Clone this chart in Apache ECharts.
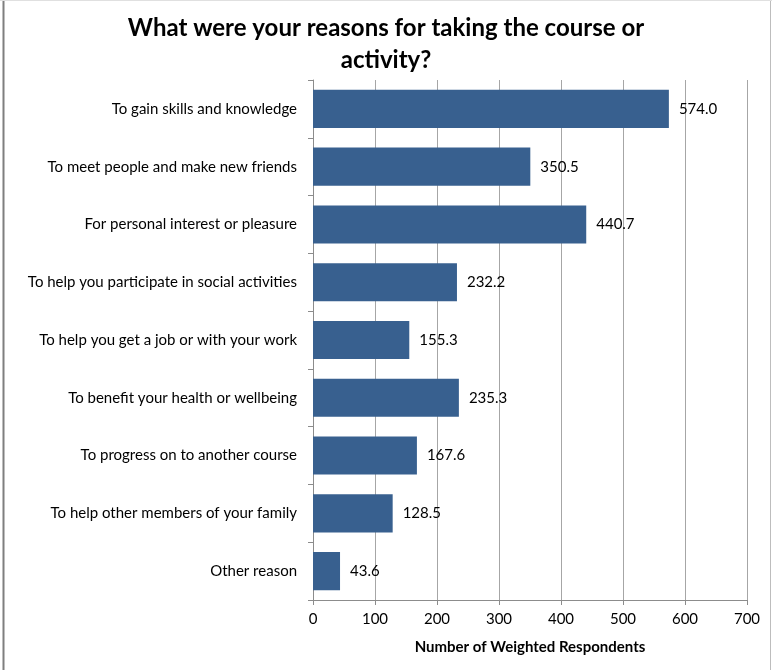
<!DOCTYPE html>
<html>
<head>
<meta charset="utf-8">
<script src="https://cdn.jsdelivr.net/npm/echarts@6/dist/echarts.min.js"></script>
<style>
  html, body { margin: 0; padding: 0; background: #fff; }
  #chart { width: 772px; height: 670px; }
</style>
</head>
<body>
<div id="chart"></div>
<script>
// Reasons for taking the course, weighted respondent counts
const categories = [
  'To gain skills and knowledge',
  'To meet people and make new friends',
  'For personal interest or pleasure',
  'To help you participate in social activities',
  'To help you get a job or with your work',
  'To benefit your health or wellbeing',
  'To progress on to another course',
  'To help other members of your family',
  'Other reason'
];
const respondents = [574.0, 350.5, 440.7, 232.2, 155.3, 235.3, 167.6, 128.5, 43.6];
const xTicks = [0, 100, 200, 300, 400, 500, 600, 700];

const FONT = 'Lato, "Open Sans", "Liberation Sans", sans-serif';
const chart = echarts.init(document.getElementById('chart'));

chart.setOption({
  backgroundColor: '#ffffff',
  animation: false,
  title: {
    text: 'What were your reasons for taking the course or\nactivity?',
    left: 'center',
    top: 7,
    textStyle: {
      fontFamily: FONT,
      fontSize: 24,
      fontWeight: 'bold',
      color: '#000',
      lineHeight: 32
    }
  },
  grid: { left: 313, right: 25, top: 80, bottom: 70 },
  xAxis: {
    type: 'value',
    min: xTicks[0],
    max: xTicks[xTicks.length - 1],
    interval: 100,
    name: 'Number of Weighted Respondents',
    nameLocation: 'middle',
    nameGap: 40,
    nameTextStyle: { fontFamily: FONT, fontSize: 15, fontWeight: 'bold', color: '#000' },
    axisLine: { show: true, lineStyle: { color: '#8c8c8c', width: 1 } },
    axisTick: { show: true, length: 5, lineStyle: { color: '#8c8c8c' } },
    axisLabel: { fontFamily: FONT, fontSize: 15, color: '#000', margin: 12 },
    splitLine: { show: true, lineStyle: { color: '#a6a6a6', width: 1 } }
  },
  yAxis: {
    type: 'category',
    data: categories,
    inverse: true,
    axisLine: { show: true, lineStyle: { color: '#8c8c8c', width: 1 } },
    axisTick: { show: true, length: 5, alignWithLabel: false, lineStyle: { color: '#8c8c8c' } },
    axisLabel: { fontFamily: FONT, fontSize: 15, color: '#000', margin: 16 },
    splitLine: { show: false }
  },
  series: [{
    type: 'bar',
    data: respondents,
    barCategoryGap: '34%',
    itemStyle: { color: '#38608f' },
    label: {
      show: true,
      position: 'right',
      distance: 10,
      fontFamily: FONT,
      fontSize: 15,
      color: '#000',
      formatter: p => p.value.toFixed(1)
    }
  }],
  graphic: [
    { type: 'line', shape: { x1: 3.5, y1: 0, x2: 3.5, y2: 670 }, style: { stroke: '#7f7f7f', lineWidth: 2 } },
    { type: 'line', shape: { x1: 770.5, y1: 0, x2: 770.5, y2: 670 }, style: { stroke: '#bdbdbd', lineWidth: 1 } },
    { type: 'line', shape: { x1: 0, y1: 0.5, x2: 772, y2: 0.5 }, style: { stroke: '#e0e0e0', lineWidth: 1 } }
  ]
});
</script>
</body>
</html>
